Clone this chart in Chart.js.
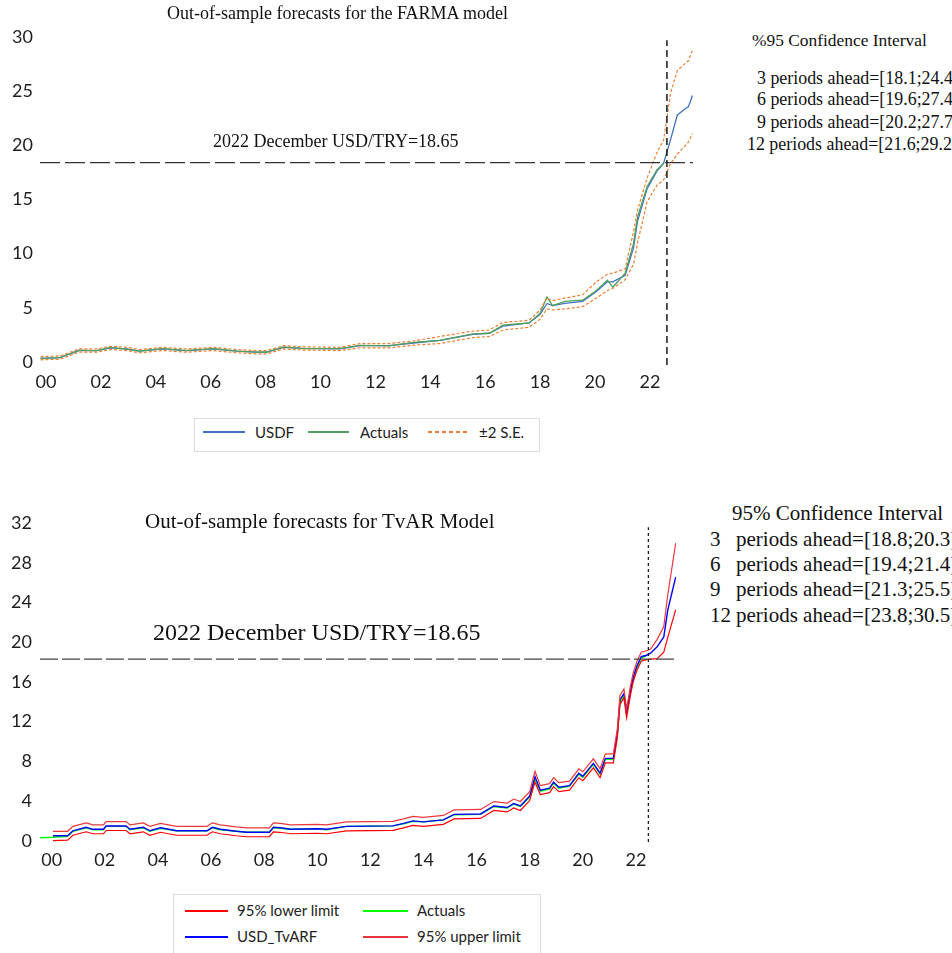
<!DOCTYPE html>
<html>
<head>
<meta charset="utf-8">
<script src="https://cdn.jsdelivr.net/npm/chart.js@4.4.0/dist/chart.umd.min.js"></script>
<style>
body { margin: 0; background: #fff; width: 952px; height: 953px; position: relative; overflow: hidden; }
canvas { position: absolute; }
.serif { position: absolute; font-family: "Liberation Serif", "Times New Roman", serif; color: #111; white-space: nowrap; line-height: 1; }
.legend { position: absolute; border: 1px solid #dcdcdc; box-sizing: border-box; }
.item { position: absolute; font-family: Lato, sans-serif; font-size: 15px; color: #222; white-space: nowrap; line-height: 1; }
.swatch { position: absolute; height: 2px; }
</style>
</head>
<body>
<canvas id="farma" width="700" height="400" style="left:0;top:0"></canvas>
<canvas id="tvar" width="700" height="400" style="left:0;top:490px"></canvas>

<div class="serif" style="left:167px;top:4px;font-size:18px">Out-of-sample forecasts for the FARMA model</div>
<div class="serif" style="left:213px;top:132px;font-size:18px">2022 December USD/TRY=18.65</div>
<div class="serif" style="left:752px;top:32px;font-size:17.4px">%95 Confidence Interval</div>
<div id="farma-ci"></div>

<div class="serif" style="left:145px;top:511px;font-size:21px">Out-of-sample forecasts for TvAR Model</div>
<div class="serif" style="left:153px;top:620px;font-size:24px">2022 December USD/TRY=18.65</div>
<div class="serif" style="left:732px;top:503px;font-size:21px">95% Confidence Interval</div>
<div id="tvar-ci"></div>

<div class="legend" style="left:194px;top:418px;width:346px;height:34px"></div>
<div class="swatch" style="left:203px;top:431px;width:42px;background:#4472C4;height:1.5px"></div>
<div class="item" style="left:255px;top:425px">USDF</div>
<div class="swatch" style="left:308px;top:431px;width:41px;background:#4ea05c;height:1.5px"></div>
<div class="item" style="left:360px;top:425px">Actuals</div>
<div class="swatch" style="left:428px;top:431px;width:40px;height:1.5px;background:repeating-linear-gradient(to right,#ED7D31 0 4px,transparent 4px 7px)"></div>
<div class="item" style="left:479px;top:425px">±2 S.E.</div>

<div class="legend" style="left:173px;top:894px;width:368px;height:70px"></div>
<div class="swatch" style="left:185px;top:910px;width:43px;background:#ff0000"></div>
<div class="item" style="left:237px;top:903px">95% lower limit</div>
<div class="swatch" style="left:363px;top:910px;width:45px;background:#00ff00"></div>
<div class="item" style="left:417px;top:903px">Actuals</div>
<div class="swatch" style="left:185px;top:936px;width:43px;background:#0000ff"></div>
<div class="item" style="left:237px;top:929px">USD_TvARF</div>
<div class="swatch" style="left:363px;top:936px;width:45px;background:#e8383d"></div>
<div class="item" style="left:417px;top:929px">95% upper limit</div>

<script>
// FARMA panel (years as decimals, values in TRY per USD)
const farmaYears = [1999.8, 2000.5, 2001.2, 2001.85, 2002.35, 2002.95, 2003.4, 2004.25, 2005.1, 2006.1,
  2006.95, 2007.65, 2008.05, 2008.65, 2009.35, 2010.7, 2011.45, 2012.5, 2013.4, 2014.35,
  2015.55, 2016.15, 2016.65, 2017.6, 2018.0, 2018.25, 2018.45, 2018.9, 2019.55, 2020.05,
  2020.45, 2020.65, 2021.1, 2021.4, 2021.55, 2021.9, 2022.25, 2022.5, 2022.75, 2023.0,
  2023.3, 2023.4, 2023.55];
const farmaActual = [0.34, 0.4, 1.1, 1.05, 1.35, 1.17, 1.0, 1.23, 1.05, 1.23,
  1.0, 0.9, 0.92, 1.4, 1.23, 1.23, 1.54, 1.48, 1.8, 2.0,
  2.6, 2.65, 3.4, 3.6, 4.5, 6.0, 5.2, 5.6, 5.7, 6.6,
  7.55, 6.9, 8.2, 10.9, 13.4, 16.2, 17.7, 18.35, null, null,
  null, null, null];
const farmaUsdf = [0.34, 0.4, 1.05, 1.05, 1.3, 1.2, 1.0, 1.2, 1.05, 1.2,
  1.0, 0.9, 0.9, 1.35, 1.25, 1.2, 1.5, 1.5, 1.75, 2.0,
  2.55, 2.65, 3.3, 3.6, 4.4, 5.4, 5.2, 5.4, 5.6, 6.5,
  7.4, 7.4, 8.0, 10.5, 13.0, 16.0, 17.6, 18.35, 20.5, 22.8,
  23.4, 23.55, 24.6];
const farmaUpper = [0.5, 0.55, 1.2, 1.2, 1.45, 1.35, 1.15, 1.35, 1.2, 1.35,
  1.15, 1.05, 1.05, 1.5, 1.4, 1.35, 1.7, 1.7, 1.95, 2.35,
  2.85, 2.95, 3.65, 3.85, 4.8, 5.9, 5.65, 5.9, 6.2, 7.4,
  8.1, 8.2, 8.6, 12.0, 14.0, 17.0, 19.3, 20.5, 24.8, 26.9,
  27.6, 27.8, 28.8];
const farmaLower = [0.2, 0.25, 0.9, 0.9, 1.15, 1.05, 0.85, 1.05, 0.9, 1.05,
  0.85, 0.75, 0.75, 1.2, 1.1, 1.05, 1.3, 1.3, 1.55, 1.7,
  2.25, 2.35, 2.95, 3.2, 3.95, 4.9, 4.8, 4.9, 5.1, 5.9,
  6.6, 6.8, 7.6, 9.0, 11.0, 14.8, 16.3, 16.8, 18.3, 19.2,
  20.0, 20.3, 21.1];
const farmaYTicks = [0, 5, 10, 15, 20, 25, 30];
const farmaXRange = [1999.78, 2023.57];
const farmaYRange = [-0.28, 30];
const farmaRefLevel = 18.4;
const farmaRefYear = 2022.62;
const farmaCiPeriods = [3, 6, 9, 12];
const farmaCiLow = [18.1, 19.6, 20.2, 21.6];
const farmaCiHigh = [24.4, 27.4, 27.7, 29.2];

// TvAR panel
const tvarYears = [1999.55, 2000.05, 2000.6, 2000.8, 2001.3, 2001.55, 2001.95, 2002.05, 2002.8, 2002.95,
  2003.45, 2003.7, 2004.1, 2004.7, 2005.85, 2006.05, 2006.35, 2006.95, 2007.35, 2008.2,
  2008.35, 2008.6, 2009.0, 2010.0, 2010.35, 2011.1, 2012.85, 2013.25, 2013.6, 2014.0,
  2014.75, 2015.15, 2016.15, 2016.65, 2017.15, 2017.4, 2017.65, 2018.0, 2018.2, 2018.4,
  2018.75, 2018.9, 2019.1, 2019.5, 2019.85, 2020.0, 2020.4, 2020.65, 2020.85, 2021.15,
  2021.3, 2021.4, 2021.55, 2021.65, 2021.8, 2021.9, 2022.05, 2022.2, 2022.4, 2022.55,
  2022.8, 2023.05, 2023.2, 2023.5];
const tvarActual = [0.3, 0.35, 0.45, 0.95, 1.3, 1.1, 1.1, 1.45, 1.45, 1.1,
  1.3, 0.95, 1.25, 1.0, 1.0, 1.3, 1.1, 0.95, 0.85, 0.85,
  1.3, 1.25, 1.15, 1.2, 1.1, 1.45, 1.5, 1.7, 1.95, 1.9,
  2.1, 2.6, 2.65, 3.45, 3.3, 3.7, 3.45, 4.4, 6.2, 5.0,
  5.2, 5.8, 5.3, 5.5, 6.7, 6.4, 7.7, 6.7, 8.2, 8.2,
  10.6, 14.0, 14.6, 12.9, 15.0, 16.3, 17.5, 18.4, 18.65, null,
  null, null, null, null];
const tvarForecast = [null, 0.5, 0.5, 1.0, 1.35, 1.15, 1.15, 1.48, 1.48, 1.15,
  1.35, 1.0, 1.3, 1.0, 1.0, 1.35, 1.15, 0.95, 0.85, 0.85,
  1.35, 1.3, 1.15, 1.2, 1.15, 1.45, 1.5, 1.75, 2.0, 1.9,
  2.1, 2.65, 2.7, 3.5, 3.35, 3.75, 3.5, 4.5, 6.45, 5.1,
  5.3, 5.9, 5.4, 5.55, 6.8, 6.5, 7.8, 6.8, 8.3, 8.3,
  10.8, 14.2, 14.85, 12.85, 15.2, 16.5, 17.7, 18.55, 18.7, 18.9,
  19.55, 20.55, 23.25, 26.6];
const tvarUpper = [null, 0.95, 0.95, 1.45, 1.8, 1.6, 1.6, 1.93, 1.93, 1.6,
  1.8, 1.45, 1.75, 1.45, 1.45, 1.8, 1.6, 1.4, 1.3, 1.3,
  1.8, 1.75, 1.6, 1.65, 1.6, 1.9, 1.95, 2.2, 2.45, 2.35,
  2.55, 3.1, 3.15, 3.95, 3.8, 4.2, 3.95, 4.95, 7.0, 5.55,
  5.75, 6.35, 5.85, 6.0, 7.25, 6.95, 8.25, 7.25, 8.75, 8.75,
  11.25, 14.65, 15.3, 13.3, 15.65, 16.95, 18.15, 19.0, 19.15, 19.3,
  20.3, 21.6, 24.8, 30.0];
const tvarLower = [null, 0.0, 0.05, 0.55, 0.9, 0.7, 0.7, 1.03, 1.03, 0.7,
  0.9, 0.55, 0.85, 0.55, 0.55, 0.9, 0.7, 0.5, 0.4, 0.4,
  0.9, 0.85, 0.7, 0.75, 0.7, 1.0, 1.05, 1.3, 1.55, 1.45,
  1.65, 2.2, 2.25, 3.05, 2.9, 3.3, 3.05, 4.05, 5.9, 4.65,
  4.85, 5.45, 4.95, 5.1, 6.35, 6.05, 7.35, 6.35, 7.85, 7.85,
  10.35, 13.75, 14.4, 12.4, 14.75, 16.05, 17.25, 18.1, 18.25, 18.3,
  18.35, 19.0, 20.5, 23.3];
const tvarYTicks = [0, 4, 8, 12, 16, 20, 24, 28, 32];
const tvarXRange = [1999.56, 2023.51];
const tvarYRange = [-0.13, 32.03];
const tvarRefLevel = 18.3;
const tvarRefYear = 2022.47;
const tvarCiPeriods = [3, 6, 9, 12];
const tvarCiLow = [18.8, 19.4, 21.3, 23.8];
const tvarCiHigh = [20.3, 21.4, 25.5, 30.5];

const yearTicks = [2000, 2002, 2004, 2006, 2008, 2010, 2012, 2014, 2016, 2018, 2020, 2022];

function lineSet(label, xs, ys, color, width, dash) {
    return {
        label,
        data: xs.map((x, i) => ({ x, y: ys[i] })),
        borderColor: color,
        borderWidth: width,
        borderDash: dash || [],
        pointRadius: 0,
        fill: false,
        tension: 0,
        spanGaps: false
    };
}

function refLines(xRange, yRange, level, year, yTop, hColor, hDash, vDash, hWidth, vWidth) {
    return [
        { label: "level", data: [{ x: xRange[0], y: level }, { x: xRange[1], y: level }],
          borderColor: hColor, borderWidth: hWidth, borderDash: hDash, pointRadius: 0 },
        { label: "date", data: [{ x: year, y: yRange[0] }, { x: year, y: yTop }],
          borderColor: "#1a1a1a", borderWidth: vWidth, borderDash: vDash, pointRadius: 0 }
    ];
}

function scales(xRange, yRange, yTicks, xHeight, xPad, yPad) {
    const tickFont = { family: "Lato", size: 18 };
    return {
        x: {
            type: "linear", min: xRange[0], max: xRange[1],
            afterBuildTicks: s => { s.ticks = yearTicks.map(v => ({ value: v })); },
            afterFit: s => { s.height = xHeight; },
            ticks: { callback: v => String(v % 100).padStart(2, "0"), font: tickFont, color: "#1e1e1e",
                     padding: xPad, maxRotation: 0, autoSkip: false },
            grid: { display: false, drawTicks: false },
            border: { display: false }
        },
        y: {
            type: "linear", min: yRange[0], max: yRange[1],
            afterBuildTicks: s => { s.ticks = yTicks.map(v => ({ value: v })); },
            afterFit: s => { s.width = 40; },
            ticks: { font: tickFont, color: "#1e1e1e", padding: yPad },
            grid: { display: false, drawTicks: false },
            border: { display: false }
        }
    };
}

const commonPlugins = { legend: { display: false }, tooltip: { enabled: false } };

new Chart(document.getElementById("farma").getContext("2d"), {
    type: "line",
    data: {
        datasets: [
            ...refLines(farmaXRange, farmaYRange, farmaRefLevel, farmaRefYear, 29.7, "#333", [20, 5], [7, 4], 1.3, 1.5),
            lineSet("±2 S.E.", farmaYears, farmaUpper, "#ED7D31", 1.2, [3, 2]),
            lineSet("±2 S.E.", farmaYears, farmaLower, "#ED7D31", 1.2, [3, 2]),
            lineSet("Actuals", farmaYears, farmaActual, "#4ea05c", 1.3),
            lineSet("USDF", farmaYears, farmaUsdf, "#4472C4", 1.3)
        ]
    },
    options: {
        responsive: false,
        animation: false,
        layout: { padding: { top: 37, right: 7, left: 0, bottom: 0 } },
        plugins: commonPlugins,
        scales: scales(farmaXRange, farmaYRange, farmaYTicks, 35, 6, 7)
    }
});

new Chart(document.getElementById("tvar").getContext("2d"), {
    type: "line",
    data: {
        datasets: [
            ...refLines(tvarXRange, tvarYRange, tvarRefLevel, tvarRefYear, 31.6, "#444", [18, 4], [3, 3], 1.2, 1.3),
            lineSet("95% upper limit", tvarYears, tvarUpper, "#e8383d", 1.2),
            lineSet("95% lower limit", tvarYears, tvarLower, "#ff0000", 1.2),
            lineSet("USD_TvARF", tvarYears, tvarForecast, "#0000ff", 1.4),
            lineSet("Actuals", tvarYears, tvarActual, "#00ff00", 1.4)
        ]
    },
    options: {
        responsive: false,
        animation: false,
        layout: { padding: { top: 33, right: 24, left: 0, bottom: 0 } },
        plugins: commonPlugins,
        scales: scales(tvarXRange, tvarYRange, tvarYTicks, 48, 7, 8)
    }
});

// confidence interval notes on the right
function addText(box, left, top, size, text) {
    const d = document.createElement("div");
    d.className = "serif";
    d.style.cssText = `left:${left}px;top:${top}px;font-size:${size}px`;
    d.textContent = text;
    box.appendChild(d);
}

const box1 = document.getElementById("farma-ci");
const farmaTops = [70, 91, 114, 136];
farmaCiPeriods.forEach((p, i) => {
    addText(box1, p >= 10 ? 747 : 757, farmaTops[i], 17.9,
        `${p} periods ahead=[${farmaCiLow[i]};${farmaCiHigh[i]}]`);
});

const box2 = document.getElementById("tvar-ci");
const tvarTops = [529, 554, 579, 605];
tvarCiPeriods.forEach((p, i) => {
    addText(box2, 710, tvarTops[i], 21, String(p));
    addText(box2, 736, tvarTops[i], 21, `periods ahead=[${tvarCiLow[i]};${tvarCiHigh[i]}]`);
});
</script>
</body>
</html>
